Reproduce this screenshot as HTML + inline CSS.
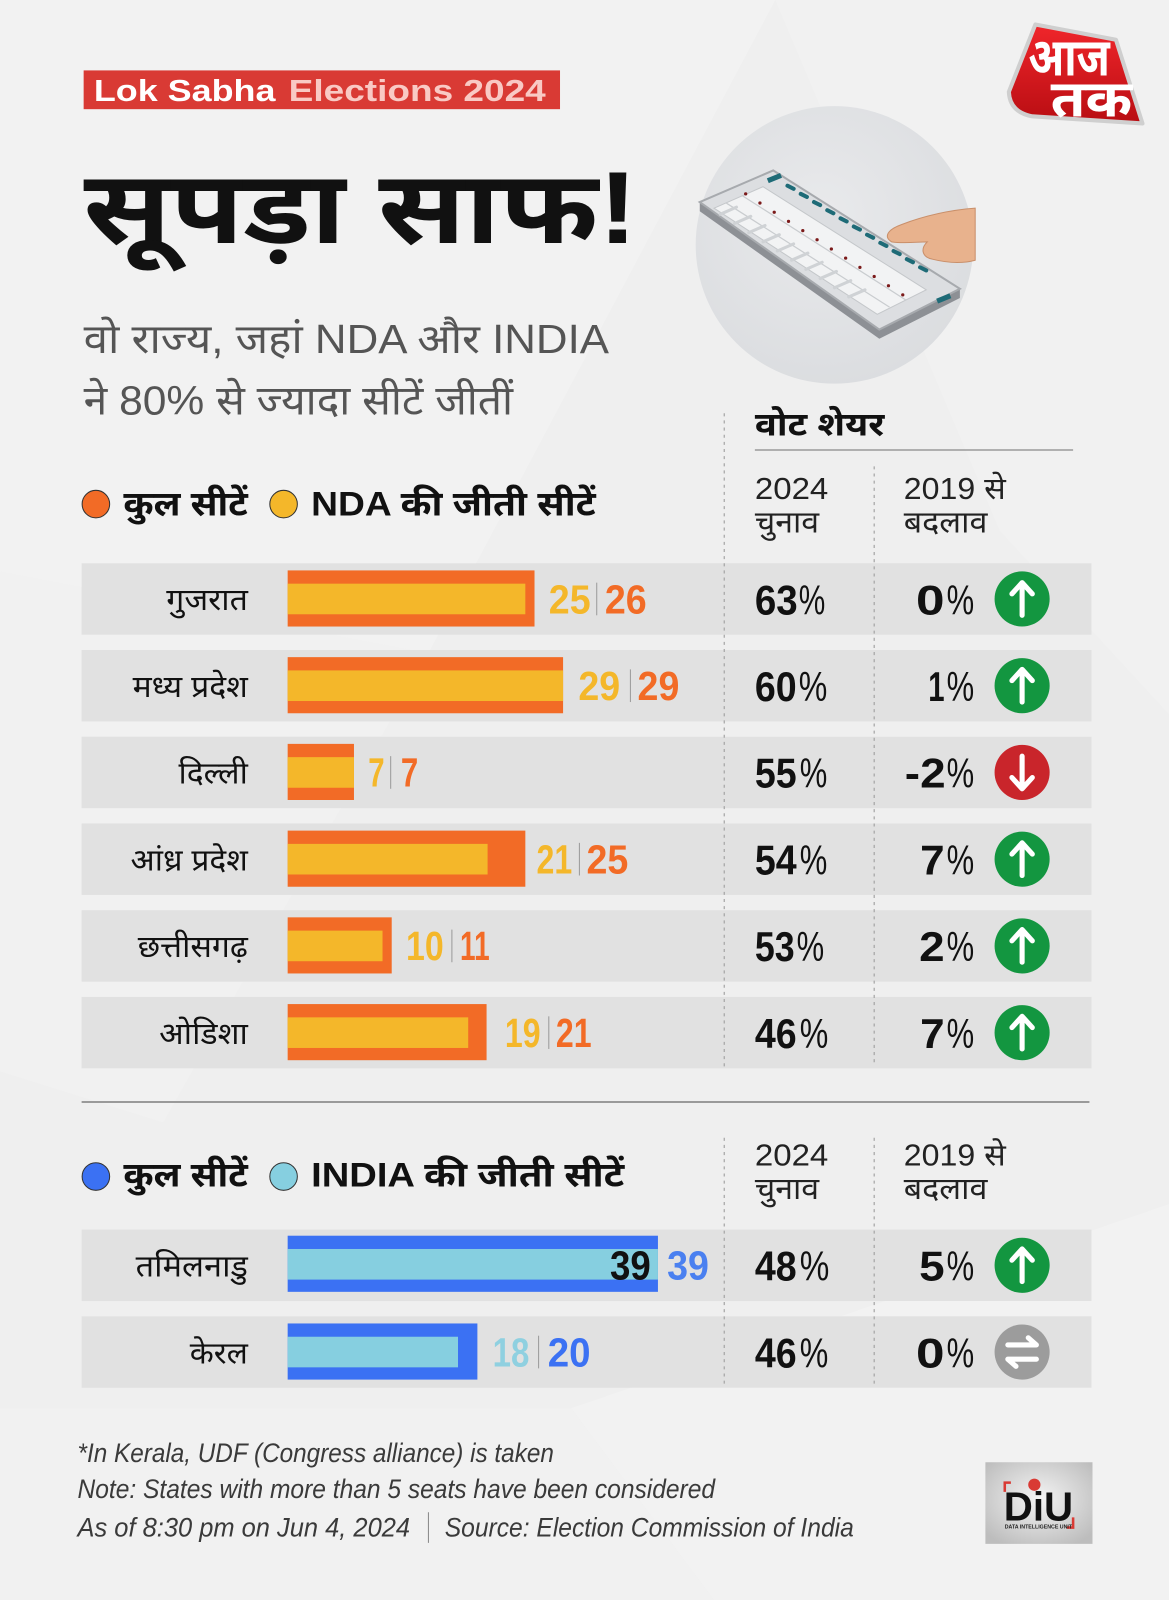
<!DOCTYPE html>
<html><head><meta charset="utf-8">
<style>
html,body{margin:0;padding:0;background:#efefef;}
svg{display:block;}
.dv{font-family:"Liberation Sans","Noto Sans Devanagari","Lohit Devanagari","FreeSans","Mangal",sans-serif;}
.num{font-family:"Liberation Sans Narrow","Liberation Sans",sans-serif;font-weight:bold;}
</style></head>
<body>
<svg width="1169" height="1600" viewBox="0 0 1146 1568" preserveAspectRatio="none" xmlns="http://www.w3.org/2000/svg">
<defs>
<radialGradient id="circ" cx="0.45" cy="0.4" r="0.7">
<stop offset="0" stop-color="#e9eaec"/><stop offset="1" stop-color="#d9dbde"/></radialGradient>
<linearGradient id="red" x1="0" y1="0" x2="0" y2="1">
<stop offset="0" stop-color="#f0262b"/><stop offset="1" stop-color="#b80d12"/></linearGradient>
<radialGradient id="diu" cx="0.5" cy="0.45" r="0.65">
<stop offset="0" stop-color="#f4f4f4"/><stop offset="1" stop-color="#bdbdbd"/></radialGradient>
</defs>

<!-- background -->
<rect x="0" y="0" width="1146" height="1568" fill="#efefef"/>
<polygon points="0,0 760,0 420,640 0,560" fill="#ffffff" opacity="0.22"/>
<polygon points="0,560 420,640 160,1100 0,1050" fill="#ffffff" opacity="0.15"/>
<polygon points="760,0 1146,0 1146,700 980,520" fill="#ffffff" opacity="0.15"/>
<polygon points="560,1380 1146,1180 1146,1568 700,1568" fill="#ffffff" opacity="0.2"/>
<polygon points="0,1380 560,1380 700,1568 0,1568" fill="#ffffff" opacity="0.12"/>

<!-- badge -->
<rect x="82" y="69" width="467" height="38" fill="#d93a34"/>
<text x="92" y="99" font-family="Liberation Sans,sans-serif" font-weight="bold" font-size="30" fill="#ffffff" textLength="178" lengthAdjust="spacingAndGlyphs">Lok Sabha</text>
<text x="283" y="99" font-family="Liberation Sans,sans-serif" font-weight="bold" font-size="30" fill="#f9c9c4" textLength="252" lengthAdjust="spacingAndGlyphs">Elections 2024</text>

<!-- title -->
<text class="dv" x="82" y="238" font-size="100" font-weight="bold" fill="#111" textLength="543" lengthAdjust="spacingAndGlyphs">सूपड़ा साफ!</text>

<!-- subtitle -->
<text class="dv" x="82" y="346" font-size="40" fill="#555" textLength="515" lengthAdjust="spacingAndGlyphs">वो राज्य, जहां NDA और INDIA</text>
<text class="dv" x="82" y="406" font-size="40" fill="#555" textLength="421" lengthAdjust="spacingAndGlyphs">ने 80% से ज्यादा सीटें जीतीं</text>

<!-- EVM illustration -->
<circle cx="818" cy="240" r="136" fill="url(#circ)"/>
<polygon points="686,198 686,207 862,332 941,292 941,283 862,323" fill="#8d9095"/>
<polygon points="686,198 758,167 941,283 862,323" fill="#dcdee1" stroke="#a7aaae" stroke-width="2"/>
<polygon points="700,204 748,183 908,284 860,308" fill="#f2f3f4" stroke="#c4c7ca" stroke-width="1"/>
<g stroke="#c9cccf" stroke-width="1.2">
<line x1="712" y1="199" x2="872" y2="301"/>
<line x1="728" y1="192" x2="888" y2="294"/>
</g>
<g stroke="#cfd2d5" stroke-width="3" stroke-linecap="round">
<line x1="706" y1="210" x2="722" y2="203"/>
<line x1="720" y1="219" x2="736" y2="212"/>
<line x1="734" y1="228" x2="750" y2="221"/>
<line x1="748" y1="237" x2="764" y2="230"/>
<line x1="762" y1="246" x2="778" y2="239"/>
<line x1="776" y1="255" x2="792" y2="248"/>
<line x1="790" y1="264" x2="806" y2="257"/>
<line x1="804" y1="273" x2="820" y2="266"/>
<line x1="818" y1="282" x2="834" y2="275"/>
<line x1="832" y1="291" x2="848" y2="284"/>
</g>
<g fill="#7b1a1a">
<circle cx="731" cy="190" r="1.6"/><circle cx="745" cy="199" r="1.6"/><circle cx="759" cy="208" r="1.6"/><circle cx="773" cy="217" r="1.6"/><circle cx="787" cy="226" r="1.6"/><circle cx="801" cy="235" r="1.6"/><circle cx="815" cy="244" r="1.6"/><circle cx="829" cy="253" r="1.6"/><circle cx="843" cy="262" r="1.6"/><circle cx="857" cy="271" r="1.6"/><circle cx="871" cy="280" r="1.6"/><circle cx="885" cy="289" r="1.6"/>
</g>
<g stroke="#1e6b77" stroke-width="4" stroke-linecap="round">
<line x1="772" y1="182" x2="778" y2="185"/><line x1="785" y1="190" x2="791" y2="193"/><line x1="798" y1="198" x2="804" y2="201"/><line x1="811" y1="206" x2="817" y2="209"/><line x1="824" y1="214" x2="830" y2="217"/><line x1="837" y1="222" x2="843" y2="225"/><line x1="850" y1="230" x2="856" y2="233"/><line x1="863" y1="238" x2="869" y2="241"/><line x1="876" y1="246" x2="882" y2="249"/><line x1="889" y1="254" x2="895" y2="257"/><line x1="902" y1="262" x2="908" y2="265"/>
</g>
<rect x="752" y="172" width="14" height="5" fill="#1e6b77" transform="rotate(-22 759 174)"/>
<rect x="918" y="290" width="14" height="5" fill="#1e6b77" transform="rotate(-22 925 292)"/>
<path d="M956,204 C930,206 905,212 884,220 C870,225 866,232 874,237 C886,239 899,237 909,237 C902,244 904,252 914,254 C930,258 945,258 956,255 Z" fill="#e8b28d" stroke="#c98f6a" stroke-width="1"/>

<!-- Aaj Tak logo -->
<path d="M1015,24 L1094,39 L1120,121 L1012,114 Q990,110 989,90 Z" fill="url(#red)" stroke="#cfcfcf" stroke-width="4" stroke-linejoin="round"/>
<text class="dv" x="1008" y="74" font-size="52" font-weight="bold" fill="#fff" textLength="80" lengthAdjust="spacingAndGlyphs">आज</text>
<text class="dv" x="1030" y="114" font-size="50" font-weight="bold" fill="#fff" textLength="80" lengthAdjust="spacingAndGlyphs">तक</text>

<!-- vote share header -->
<text class="dv" x="740" y="427" font-size="32" font-weight="bold" fill="#111" textLength="127" lengthAdjust="spacingAndGlyphs">वोट शेयर</text>
<line x1="740" y1="441" x2="1052" y2="441" stroke="#9a9a9a" stroke-width="1.5"/>
<text class="dv" x="740" y="489" font-size="30" fill="#222" textLength="72" lengthAdjust="spacingAndGlyphs">2024</text>
<text class="dv" x="740" y="522" font-size="30" fill="#222" textLength="63" lengthAdjust="spacingAndGlyphs">चुनाव</text>
<text class="dv" x="886" y="489" font-size="30" fill="#222" textLength="100" lengthAdjust="spacingAndGlyphs">2019 से</text>
<text class="dv" x="886" y="522" font-size="30" fill="#222" textLength="82" lengthAdjust="spacingAndGlyphs">बदलाव</text>

<!-- legend 1 -->
<circle cx="94" cy="494" r="13.5" fill="#f26b26" stroke="#333" stroke-width="1"/>
<text class="dv" x="121" y="505" font-size="34" font-weight="bold" fill="#111" textLength="122" lengthAdjust="spacingAndGlyphs">कुल सीटें</text>
<circle cx="278" cy="494" r="13.5" fill="#f4b72a" stroke="#333" stroke-width="1"/>
<text class="dv" x="305" y="505" font-size="34" font-weight="bold" fill="#111" textLength="279" lengthAdjust="spacingAndGlyphs">NDA की जीती सीटें</text>

<!-- row bands -->
<g fill="#e1e1e1">
<rect x="80" y="552" width="990" height="70"/>
<rect x="80" y="637" width="990" height="70"/>
<rect x="80" y="722" width="990" height="70"/>
<rect x="80" y="807" width="990" height="70"/>
<rect x="80" y="892" width="990" height="70"/>
<rect x="80" y="977" width="990" height="70"/>
<rect x="80" y="1205" width="990" height="70"/>
<rect x="80" y="1290" width="990" height="70"/>
</g>

<!-- dotted lines -->
<g stroke="#a5a5a5" stroke-width="1.2" stroke-dasharray="3 4">
<line x1="710" y1="405" x2="710" y2="1045"/>
<line x1="857" y1="457" x2="857" y2="1045"/>
<line x1="710" y1="1115" x2="710" y2="1358"/>
<line x1="857" y1="1115" x2="857" y2="1358"/>
</g>

<!-- NDA bars -->
<g>
<rect x="282" y="559" width="242" height="55" fill="#f26b26"/><rect x="282" y="572" width="233" height="30" fill="#f4b72a"/>
<rect x="282" y="644" width="270" height="55" fill="#f26b26"/><rect x="282" y="657" width="270" height="30" fill="#f4b72a"/>
<rect x="282" y="729" width="65" height="55" fill="#f26b26"/><rect x="282" y="742" width="65" height="30" fill="#f4b72a"/>
<rect x="282" y="814" width="233" height="55" fill="#f26b26"/><rect x="282" y="827" width="196" height="30" fill="#f4b72a"/>
<rect x="282" y="899" width="102" height="55" fill="#f26b26"/><rect x="282" y="912" width="93" height="30" fill="#f4b72a"/>
<rect x="282" y="984" width="195" height="55" fill="#f26b26"/><rect x="282" y="997" width="177" height="30" fill="#f4b72a"/>
</g>

<!-- state names -->
<g class="dv" font-size="30" fill="#111" text-anchor="end">
<text x="243" y="598" textLength="80" lengthAdjust="spacingAndGlyphs">गुजरात</text>
<text x="243" y="683" textLength="113" lengthAdjust="spacingAndGlyphs">मध्य प्रदेश</text>
<text x="243" y="768" textLength="68" lengthAdjust="spacingAndGlyphs">दिल्ली</text>
<text x="243" y="853" textLength="115" lengthAdjust="spacingAndGlyphs">आंध्र प्रदेश</text>
<text x="243" y="938" textLength="108" lengthAdjust="spacingAndGlyphs">छत्तीसगढ़</text>
<text x="243" y="1023" textLength="87" lengthAdjust="spacingAndGlyphs">ओडिशा</text>
<text x="243" y="1251" textLength="110" lengthAdjust="spacingAndGlyphs">तमिलनाडु</text>
<text x="243" y="1336" textLength="57" lengthAdjust="spacingAndGlyphs">केरल</text>
</g>

<!-- seat labels -->
<g class="num" font-size="40">
<text x="538" y="601" fill="#f4b72a" textLength="41" lengthAdjust="spacingAndGlyphs">25</text>
<text x="593" y="601" fill="#f26b26" textLength="41" lengthAdjust="spacingAndGlyphs">26</text>
<text x="567" y="686" fill="#f4b72a" textLength="41" lengthAdjust="spacingAndGlyphs">29</text>
<text x="625" y="686" fill="#f26b26" textLength="41" lengthAdjust="spacingAndGlyphs">29</text>
<text x="361" y="771" fill="#f4b72a" textLength="16" lengthAdjust="spacingAndGlyphs">7</text>
<text x="393" y="771" fill="#f26b26" textLength="17" lengthAdjust="spacingAndGlyphs">7</text>
<text x="526" y="856" fill="#f4b72a" textLength="35" lengthAdjust="spacingAndGlyphs">21</text>
<text x="575" y="856" fill="#f26b26" textLength="41" lengthAdjust="spacingAndGlyphs">25</text>
<text x="398" y="941" fill="#f4b72a" textLength="37" lengthAdjust="spacingAndGlyphs">10</text>
<text x="451" y="941" fill="#f26b26" textLength="29" lengthAdjust="spacingAndGlyphs">11</text>
<text x="495" y="1026" fill="#f4b72a" textLength="35" lengthAdjust="spacingAndGlyphs">19</text>
<text x="545" y="1026" fill="#f26b26" textLength="35" lengthAdjust="spacingAndGlyphs">21</text>
</g>
<g stroke="#9a9a9a" stroke-width="1">
<line x1="585" y1="571" x2="585" y2="603"/>
<line x1="618" y1="656" x2="618" y2="688"/>
<line x1="383" y1="741" x2="383" y2="773"/>
<line x1="568" y1="826" x2="568" y2="858"/>
<line x1="443" y1="911" x2="443" y2="943"/>
<line x1="538" y1="996" x2="538" y2="1028"/>
<line x1="528" y1="1309" x2="528" y2="1341"/>
</g>

<!-- vote share values -->
<g class="num" font-size="41" fill="#111">
<text x="740" y="602" textLength="42" lengthAdjust="spacingAndGlyphs">63</text>
<text x="740" y="687" textLength="41" lengthAdjust="spacingAndGlyphs">60</text>
<text x="740" y="772" textLength="41" lengthAdjust="spacingAndGlyphs">55</text>
<text x="740" y="857" textLength="41" lengthAdjust="spacingAndGlyphs">54</text>
<text x="740" y="942" textLength="39" lengthAdjust="spacingAndGlyphs">53</text>
<text x="740" y="1027" textLength="41" lengthAdjust="spacingAndGlyphs">46</text>
<text x="740" y="1255" textLength="41" lengthAdjust="spacingAndGlyphs">48</text>
<text x="740" y="1340" textLength="41" lengthAdjust="spacingAndGlyphs">46</text>
<text x="898" y="602" textLength="28" lengthAdjust="spacingAndGlyphs">0</text>
<text x="910" y="687" textLength="16" lengthAdjust="spacingAndGlyphs">1</text>
<text x="887" y="772" textLength="40" lengthAdjust="spacingAndGlyphs">-2</text>
<text x="902" y="857" textLength="24" lengthAdjust="spacingAndGlyphs">7</text>
<text x="901" y="942" textLength="25" lengthAdjust="spacingAndGlyphs">2</text>
<text x="902" y="1027" textLength="24" lengthAdjust="spacingAndGlyphs">7</text>
<text x="901" y="1255" textLength="25" lengthAdjust="spacingAndGlyphs">5</text>
<text x="898" y="1340" textLength="28" lengthAdjust="spacingAndGlyphs">0</text>
</g>
<g font-family="Liberation Sans Narrow,Liberation Sans,sans-serif" font-size="41" fill="#111">
<text x="783" y="602" textLength="26" lengthAdjust="spacingAndGlyphs">%</text>
<text x="783" y="687" textLength="28" lengthAdjust="spacingAndGlyphs">%</text>
<text x="784" y="772" textLength="27" lengthAdjust="spacingAndGlyphs">%</text>
<text x="784" y="857" textLength="27" lengthAdjust="spacingAndGlyphs">%</text>
<text x="781" y="942" textLength="27" lengthAdjust="spacingAndGlyphs">%</text>
<text x="784" y="1027" textLength="28" lengthAdjust="spacingAndGlyphs">%</text>
<text x="784" y="1255" textLength="29" lengthAdjust="spacingAndGlyphs">%</text>
<text x="784" y="1340" textLength="28" lengthAdjust="spacingAndGlyphs">%</text>
<text x="928" y="602" textLength="27" lengthAdjust="spacingAndGlyphs">%</text>
<text x="928" y="687" textLength="27" lengthAdjust="spacingAndGlyphs">%</text>
<text x="928" y="772" textLength="27" lengthAdjust="spacingAndGlyphs">%</text>
<text x="928" y="857" textLength="27" lengthAdjust="spacingAndGlyphs">%</text>
<text x="928" y="942" textLength="27" lengthAdjust="spacingAndGlyphs">%</text>
<text x="928" y="1027" textLength="27" lengthAdjust="spacingAndGlyphs">%</text>
<text x="928" y="1255" textLength="27" lengthAdjust="spacingAndGlyphs">%</text>
<text x="928" y="1340" textLength="27" lengthAdjust="spacingAndGlyphs">%</text>
</g>

<!-- arrow icons -->
<g>
<circle cx="1002" cy="587" r="27" fill="#139640"/>
<circle cx="1002" cy="672" r="27" fill="#139640"/>
<circle cx="1002" cy="757" r="27" fill="#c9252b"/>
<circle cx="1002" cy="842" r="27" fill="#139640"/>
<circle cx="1002" cy="927" r="27" fill="#139640"/>
<circle cx="1002" cy="1012" r="27" fill="#139640"/>
<circle cx="1002" cy="1240" r="27" fill="#139640"/>
<circle cx="1002" cy="1325" r="27" fill="#9c9c9c"/>
</g>
<g stroke="#fff" stroke-width="5" stroke-linecap="round" stroke-linejoin="round" fill="none">
<path d="M1002,603 V572 M992,582 L1002,571 L1012,582"/>
<path d="M1002,688 V657 M992,667 L1002,656 L1012,667"/>
<path d="M1002,741 V772 M992,762 L1002,773 L1012,762"/>
<path d="M1002,858 V827 M992,837 L1002,826 L1012,837"/>
<path d="M1002,943 V912 M992,922 L1002,911 L1012,922"/>
<path d="M1002,1028 V997 M992,1007 L1002,996 L1012,1007"/>
<path d="M1002,1256 V1225 M992,1235 L1002,1224 L1012,1235"/>
<path d="M988,1318 H1016 M1008,1311 L1016,1318 L1008,1318 M1016,1332 H988 M996,1339 L988,1332 L996,1332"/>
</g>

<!-- divider -->
<line x1="80" y1="1080" x2="1068" y2="1080" stroke="#9a9a9a" stroke-width="2"/>

<!-- legend 2 -->
<circle cx="94" cy="1153" r="13.5" fill="#3b71f3" stroke="#333" stroke-width="1"/>
<text class="dv" x="121" y="1163" font-size="34" font-weight="bold" fill="#111" textLength="122" lengthAdjust="spacingAndGlyphs">कुल सीटें</text>
<circle cx="278" cy="1153" r="13.5" fill="#86cfe0" stroke="#333" stroke-width="1"/>
<text class="dv" x="305" y="1163" font-size="34" font-weight="bold" fill="#111" textLength="307" lengthAdjust="spacingAndGlyphs">INDIA की जीती सीटें</text>
<text class="dv" x="740" y="1142" font-size="30" fill="#222" textLength="72" lengthAdjust="spacingAndGlyphs">2024</text>
<text class="dv" x="740" y="1175" font-size="30" fill="#222" textLength="63" lengthAdjust="spacingAndGlyphs">चुनाव</text>
<text class="dv" x="886" y="1142" font-size="30" fill="#222" textLength="100" lengthAdjust="spacingAndGlyphs">2019 से</text>
<text class="dv" x="886" y="1175" font-size="30" fill="#222" textLength="82" lengthAdjust="spacingAndGlyphs">बदलाव</text>

<!-- INDIA bars -->
<rect x="282" y="1211" width="363" height="55" fill="#3b71f3"/><rect x="282" y="1224" width="363" height="30" fill="#86cfe0"/>
<rect x="282" y="1297" width="186" height="55" fill="#3b71f3"/><rect x="282" y="1310" width="167" height="30" fill="#86cfe0"/>
<g class="num" font-size="40">
<text x="598" y="1254" fill="#111" textLength="40" lengthAdjust="spacingAndGlyphs">39</text>
<text x="654" y="1254" fill="#4a80f0" textLength="41" lengthAdjust="spacingAndGlyphs">39</text>
<text x="483" y="1339" fill="#8fd0e0" textLength="36" lengthAdjust="spacingAndGlyphs">18</text>
<text x="537" y="1339" fill="#3b71f3" textLength="42" lengthAdjust="spacingAndGlyphs">20</text>
</g>

<!-- footer -->
<g font-family="Liberation Sans Narrow,Liberation Sans,sans-serif" font-style="italic" font-size="26" fill="#3a3a3a">
<text x="76" y="1433" textLength="467" lengthAdjust="spacingAndGlyphs">*In Kerala, UDF (Congress alliance) is taken</text>
<text x="76" y="1468" textLength="625" lengthAdjust="spacingAndGlyphs">Note: States with more than 5 seats have been considered</text>
<text x="76" y="1506" textLength="326" lengthAdjust="spacingAndGlyphs">As of 8:30 pm on Jun 4, 2024</text>
<text x="436" y="1506" textLength="401" lengthAdjust="spacingAndGlyphs">Source: Election Commission of India</text>
</g>
<line x1="420" y1="1482" x2="420" y2="1512" stroke="#888" stroke-width="1"/>

<!-- DIU logo -->
<rect x="966" y="1433" width="105" height="80" fill="url(#diu)"/>
<path d="M985,1462 V1453 H991" stroke="#d93a34" stroke-width="2.5" fill="none"/>
<path d="M1052,1487 V1497 H1046" stroke="#d93a34" stroke-width="2.5" fill="none"/>
<circle cx="1014" cy="1455" r="6" fill="#d93a34"/>
<text x="984" y="1490" font-family="Liberation Sans,sans-serif" font-weight="bold" font-size="40" fill="#111" textLength="68" lengthAdjust="spacingAndGlyphs">DiU</text>
<text x="985" y="1498" font-family="Liberation Sans,sans-serif" font-weight="bold" font-size="5" fill="#222" textLength="66" lengthAdjust="spacingAndGlyphs">DATA INTELLIGENCE UNIT</text>
</svg>
</body></html>
